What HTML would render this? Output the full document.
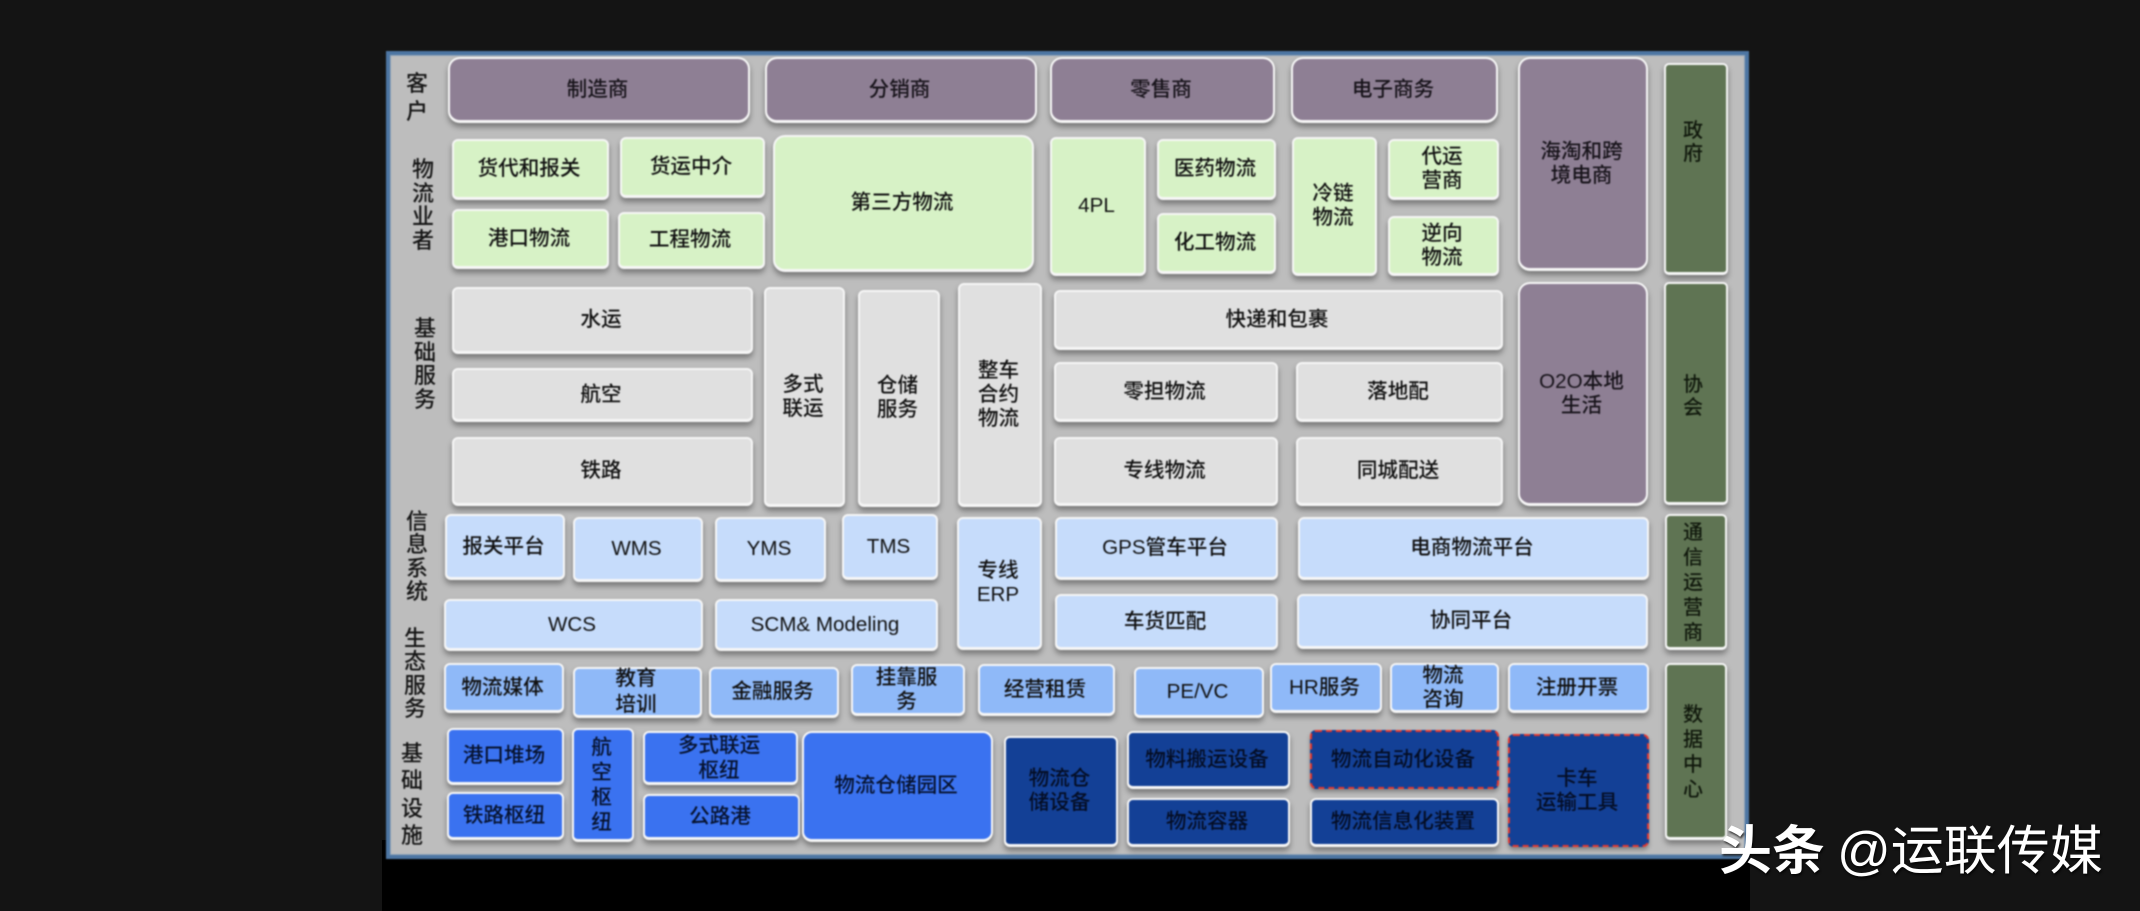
<!DOCTYPE html>
<html lang="zh">
<head>
<meta charset="utf-8">
<style>
html,body{margin:0;padding:0;width:2140px;height:911px;overflow:hidden;background:#141414}
body{position:relative;font-family:"Liberation Sans","Noto Sans CJK SC",sans-serif}
#blk{position:absolute;left:382px;top:840px;width:1368px;height:71px;background:#000}
#wrap{position:absolute;left:0;top:0;width:2140px;height:911px;filter:blur(.8px)}
#panel{position:absolute;left:386px;top:51px;width:1363px;height:808px;box-sizing:border-box;background:#bdbdbd;border:4px solid #4d76a3;box-shadow:inset 0 0 0 1px #8ea3b8}
.b{position:absolute;box-sizing:border-box;display:flex;align-items:center;justify-content:center;text-align:center;border:2px solid #f6f6f6;border-bottom-width:3px;border-radius:6px;box-shadow:0 4px 6px rgba(0,0,0,.36);font-size:20.6px;line-height:24px;color:#111;padding-right:3px;font-weight:500;white-space:nowrap}
.p{background:#8e7f94;border-radius:12px;color:#17131a}
.g{background:#d7f2c6}
.y{background:#e0e0e0}
.l{background:#c6dcfb}
.m{background:#8fb9f8}
.u{background:#3a72f0;color:#06122e}
.d{background:#134096;color:#040d24}
.r{border:2px dashed #e2382f;box-shadow:0 3px 4px rgba(0,0,0,.3)}
.o{background:#5f7453;color:#10180c;border-radius:5px;display:block;padding:0}
.v{position:absolute;width:40px;text-align:center;font-size:22px;color:#151515;font-weight:500}
.t{position:absolute;left:-3px;width:100%;text-align:center;line-height:25px;font-size:20px}
#wm{position:absolute;left:1719px;top:816px;font-size:53px;line-height:72px;color:#fff;white-space:nowrap;text-shadow:1px 2px 2px rgba(0,0,0,.75)}
#wm b{font-weight:700;margin-right:12px}
</style>
</head>
<body>
<div id="blk"></div>
<div id="wrap">
<div id="panel"></div>

<div class="v" style="left:397px;top:70px;line-height:28px">客<br>户</div>
<div class="v" style="left:403px;top:158px;line-height:23.7px">物<br>流<br>业<br>者</div>
<div class="v" style="left:405px;top:317px;line-height:23.5px">基<br>础<br>服<br>务</div>
<div class="v" style="left:397px;top:510px;line-height:23.4px">信<br>息<br>系<br>统</div>
<div class="v" style="left:395px;top:627px;line-height:23.4px">生<br>态<br>服<br>务</div>
<div class="v" style="left:392px;top:740px;line-height:27.3px">基<br>础<br>设<br>施</div>

<div class="b p" style="left:448px;top:57px;width:302px;height:66px">制造商</div>
<div class="b p" style="left:765px;top:57px;width:272px;height:66px">分销商</div>
<div class="b p" style="left:1050px;top:57px;width:225px;height:66px">零售商</div>
<div class="b p" style="left:1291px;top:57px;width:207px;height:66px">电子商务</div>
<div class="b p" style="left:1518px;top:57px;width:130px;height:214px">海淘和跨<br>境电商</div>
<div class="b p" style="left:1518px;top:282px;width:130px;height:224px">O2O本地<br>生活</div>

<div class="b o" style="left:1664px;top:63px;width:64px;height:212px"><div class="t" style="top:55px;line-height:23px">政<br>府</div></div>
<div class="b o" style="left:1664px;top:282px;width:64px;height:223px"><div class="t" style="top:90px;line-height:23px">协<br>会</div></div>
<div class="b o" style="left:1665px;top:514px;width:62px;height:136px"><div class="t" style="top:5px">通<br>信<br>运<br>营<br>商</div></div>
<div class="b o" style="left:1665px;top:663px;width:62px;height:177px"><div class="t" style="top:38px">数<br>据<br>中<br>心</div></div>

<div class="b g" style="left:452px;top:139px;width:157px;height:61px">货代和报关</div>
<div class="b g" style="left:620px;top:137px;width:145px;height:61px">货运中介</div>
<div class="b g" style="left:452px;top:209px;width:157px;height:60px">港口物流</div>
<div class="b g" style="left:618px;top:212px;width:147px;height:57px">工程物流</div>
<div class="b g" style="left:773px;top:135px;width:261px;height:137px;border-radius:12px">第三方物流</div>
<div class="b g" style="left:1050px;top:137px;width:96px;height:139px">4PL</div>
<div class="b g" style="left:1157px;top:139px;width:119px;height:61px">医药物流</div>
<div class="b g" style="left:1157px;top:213px;width:119px;height:61px">化工物流</div>
<div class="b g" style="left:1292px;top:137px;width:85px;height:139px">冷链<br>物流</div>
<div class="b g" style="left:1388px;top:139px;width:111px;height:61px">代运<br>营商</div>
<div class="b g" style="left:1388px;top:216px;width:111px;height:60px">逆向<br>物流</div>

<div class="b y" style="left:452px;top:287px;width:301px;height:67px">水运</div>
<div class="b y" style="left:452px;top:368px;width:301px;height:54px">航空</div>
<div class="b y" style="left:452px;top:437px;width:301px;height:69px">铁路</div>
<div class="b y" style="left:764px;top:287px;width:81px;height:220px">多式<br>联运</div>
<div class="b y" style="left:858px;top:290px;width:82px;height:217px">仓储<br>服务</div>
<div class="b y" style="left:958px;top:283px;width:84px;height:224px">整车<br>合约<br>物流</div>
<div class="b y" style="left:1054px;top:290px;width:449px;height:60px">快递和包裹</div>
<div class="b y" style="left:1054px;top:362px;width:224px;height:60px">零担物流</div>
<div class="b y" style="left:1296px;top:362px;width:207px;height:60px">落地配</div>
<div class="b y" style="left:1054px;top:437px;width:224px;height:69px">专线物流</div>
<div class="b y" style="left:1296px;top:437px;width:207px;height:69px">同城配送</div>

<div class="b l" style="left:445px;top:514px;width:120px;height:66px">报关平台</div>
<div class="b l" style="left:573px;top:517px;width:130px;height:65px">WMS</div>
<div class="b l" style="left:715px;top:517px;width:111px;height:65px">YMS</div>
<div class="b l" style="left:842px;top:514px;width:96px;height:66px">TMS</div>
<div class="b l" style="left:957px;top:517px;width:85px;height:133px">专线<br>ERP</div>
<div class="b l" style="left:444px;top:599px;width:259px;height:52px">WCS</div>
<div class="b l" style="left:715px;top:599px;width:223px;height:52px">SCM&amp; Modeling</div>
<div class="b l" style="left:1055px;top:517px;width:223px;height:63px">GPS管车平台</div>
<div class="b l" style="left:1298px;top:517px;width:351px;height:63px">电商物流平台</div>
<div class="b l" style="left:1055px;top:594px;width:223px;height:56px">车货匹配</div>
<div class="b l" style="left:1297px;top:594px;width:351px;height:55px">协同平台</div>

<div class="b m" style="left:444px;top:663px;width:120px;height:50px">物流媒体</div>
<div class="b m" style="left:573px;top:667px;width:129px;height:51px;line-height:26px">教育<br>培训</div>
<div class="b m" style="left:709px;top:667px;width:130px;height:51px">金融服务</div>
<div class="b m" style="left:851px;top:664px;width:114px;height:52px">挂靠服<br>务</div>
<div class="b m" style="left:978px;top:664px;width:137px;height:52px">经营租赁</div>
<div class="b m" style="left:1134px;top:667px;width:130px;height:51px">PE/VC</div>
<div class="b m" style="left:1270px;top:663px;width:112px;height:50px">HR服务</div>
<div class="b m" style="left:1390px;top:663px;width:109px;height:50px">物流<br>咨询</div>
<div class="b m" style="left:1508px;top:663px;width:141px;height:50px">注册开票</div>

<div class="b u" style="left:447px;top:728px;width:117px;height:57px">港口堆场</div>
<div class="b u" style="left:447px;top:792px;width:117px;height:48px">铁路枢纽</div>
<div class="b u" style="left:572px;top:728px;width:62px;height:114px;line-height:25px">航<br>空<br>枢<br>纽</div>
<div class="b u" style="left:643px;top:731px;width:155px;height:54px;line-height:25px">多式联运<br>枢纽</div>
<div class="b u" style="left:643px;top:794px;width:157px;height:46px">公路港</div>
<div class="b u" style="left:802px;top:731px;width:191px;height:111px;border-radius:10px">物流仓储园区</div>

<div class="b d" style="left:1004px;top:736px;width:114px;height:111px">物流仓<br>储设备</div>
<div class="b d" style="left:1127px;top:731px;width:163px;height:58px">物料搬运设备</div>
<div class="b d" style="left:1127px;top:798px;width:163px;height:49px">物流容器</div>
<div class="b d r" style="left:1310px;top:730px;width:189px;height:59px">物流自动化设备</div>
<div class="b d" style="left:1310px;top:798px;width:189px;height:49px">物流信息化装置</div>
<div class="b d r" style="left:1508px;top:734px;width:141px;height:113px">卡车<br>运输工具</div>
</div>
<div id="wm"><b>头条</b>@运联传媒</div>
</body>
</html>
